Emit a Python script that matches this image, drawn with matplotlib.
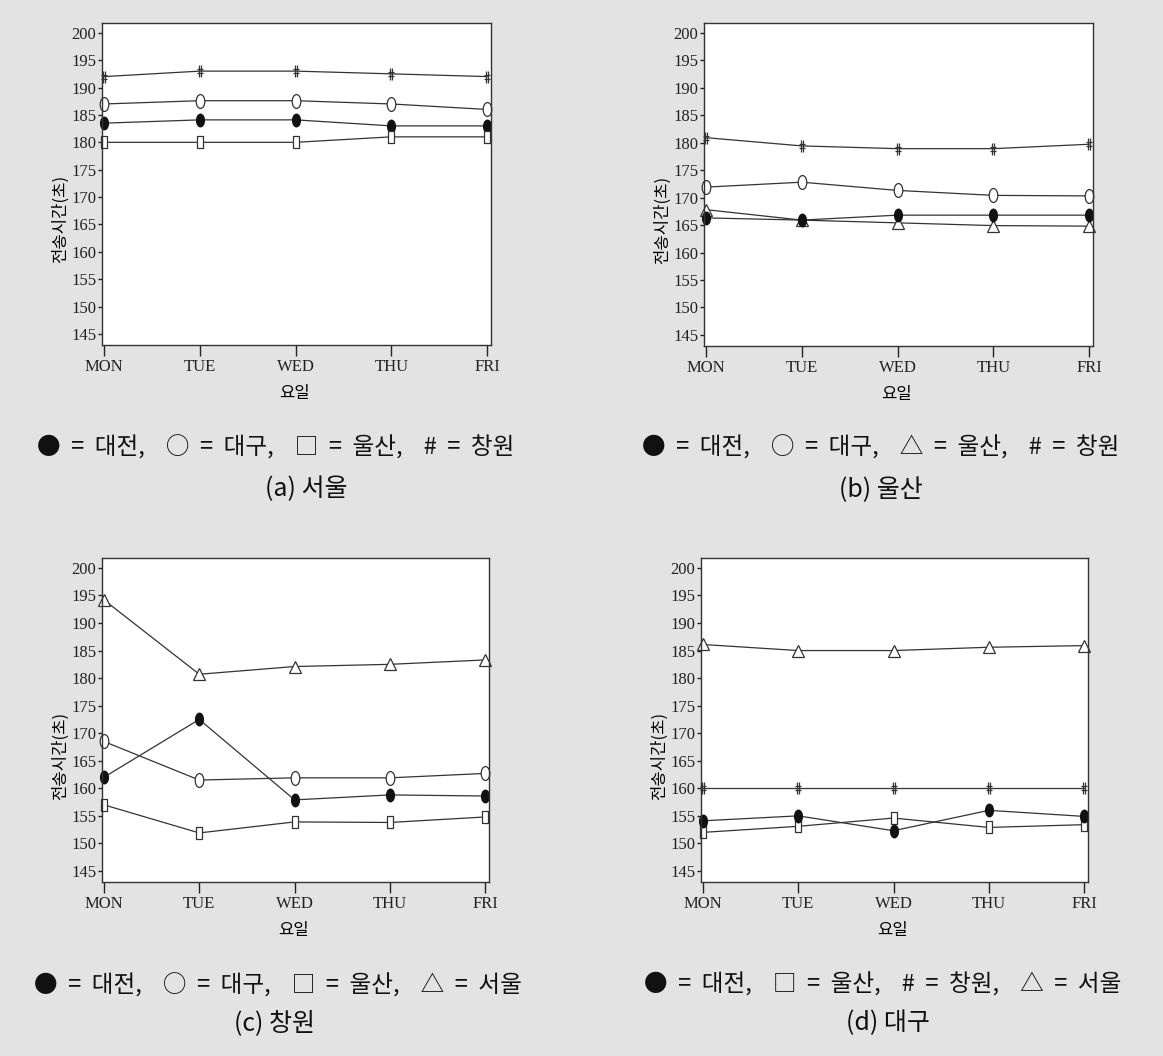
import numpy as np
from matplotlib import pyplot as plt
from matplotlib.path import Path

days = ['MON', 'TUE', 'WED', 'THU', 'FRI']
yticks = [145, 150, 155, 160, 165, 170, 175, 180, 185, 190, 195, 200]

# (a) 서울
seoul_daejeon = [183.5, 184.1, 184.1, 183.0, 183.0]
seoul_daegu = [187.0, 187.6, 187.6, 187.0, 186.0]
seoul_ulsan = [180.0, 180.0, 180.0, 181.0, 181.0]
seoul_changwon = [192.0, 193.0, 193.0, 192.5, 192.0]

# (b) 울산
ulsan_daejeon = [166.3, 165.9, 166.8, 166.8, 166.8]
ulsan_daegu = [171.9, 172.8, 171.3, 170.4, 170.3]
ulsan_ulsan = [167.8, 165.9, 165.4, 164.9, 164.8]
ulsan_changwon = [180.9, 179.4, 178.9, 178.9, 179.7]

# (c) 창원
changwon_daejeon = [162.0, 172.5, 157.9, 158.8, 158.6]
changwon_daegu = [168.5, 161.5, 161.9, 161.9, 162.7]
changwon_ulsan = [157.0, 151.9, 153.9, 153.8, 154.8]
changwon_seoul = [194.2, 180.7, 182.1, 182.5, 183.3]

# (d) 대구
daegu_daejeon = [154.1, 155.0, 152.3, 156.0, 154.9]
daegu_ulsan = [152.0, 153.1, 154.6, 152.9, 153.4]
daegu_changwon = [160.0, 160.0, 160.0, 160.0, 160.0]
daegu_seoul = [186.1, 185.0, 185.0, 185.6, 185.9]

legends = ['●  =  대전,    ○  =  대구,    □  =  울산,    #  =  창원',
           '●  =  대전,    ○  =  대구,    △  =  울산,    #  =  창원',
           '●  =  대전,    ○  =  대구,    □  =  울산,    △  =  서울',
           '●  =  대전,    □  =  울산,    #  =  창원,    △  =  서울']
captions = ['(a) 서울', '(b) 울산', '(c) 창원', '(d) 대구']

kfont = ['Noto Sans CJK KR', 'DejaVu Sans']

# tall, narrow markers like the scanned plot
circ = Path.unit_circle()
oval = Path(circ.vertices * [0.62, 1.0], circ.codes)
rect = Path([(-0.55, -1), (0.55, -1), (0.55, 1), (-0.55, 1), (-0.55, -1)],
            [Path.MOVETO, Path.LINETO, Path.LINETO, Path.LINETO, Path.CLOSEPOLY])
hash_mark = Path([(-0.25, -1), (-0.25, 1), (0.25, -1), (0.25, 1),
                  (-0.6, 0.3), (0.6, 0.3), (-0.6, -0.3), (0.6, -0.3)],
                 [Path.MOVETO, Path.LINETO] * 4)

styles = {
    'dot': dict(marker=oval, ms=9, mfc='#111111', mec='#111111'),
    'ring': dict(marker=oval, ms=10, mfc='white', mec='#333333', mew=0.9),
    'box': dict(marker=rect, ms=9, mfc='white', mec='#333333', mew=0.9),
    'hash': dict(marker=hash_mark, ms=8, mfc='none', mec='#333333', mew=0.9),
    'tri': dict(marker='^', ms=8, mfc='white', mec='#333333', mew=0.9),
}

panels = [
    [(seoul_changwon, 'hash'), (seoul_daegu, 'ring'), (seoul_daejeon, 'dot'), (seoul_ulsan, 'box')],
    [(ulsan_changwon, 'hash'), (ulsan_daegu, 'ring'), (ulsan_ulsan, 'tri'), (ulsan_daejeon, 'dot')],
    [(changwon_seoul, 'tri'), (changwon_daegu, 'ring'), (changwon_ulsan, 'box'), (changwon_daejeon, 'dot')],
    [(daegu_seoul, 'tri'), (daegu_changwon, 'hash'), (daegu_ulsan, 'box'), (daegu_daejeon, 'dot')],
]

positions = [
    [0.0877, 0.6733, 0.3345, 0.305],
    [0.6053, 0.6724, 0.3345, 0.306],
    [0.0877, 0.1648, 0.3328, 0.3068],
    [0.6027, 0.1648, 0.3328, 0.3068],
]

# legend line / caption centres in figure px
text_pos = [(276, 447, 306, 489), (881, 447, 881, 490),
            (278, 985, 274, 1023), (883, 985, 888, 1023)]

fig = plt.figure(figsize=(11.63, 10.56), dpi=100, facecolor='#e3e3e3')
x = np.arange(len(days))

for i in range(4):
    ax = fig.add_axes(positions[i])
    ax.set_facecolor('white')
    for vals, key in panels[i]:
        ax.plot(x, vals, color='#333333', lw=0.9, clip_on=False, **styles[key])
    ax.set_xlim(-0.02, 4.04)
    ax.set_ylim(143, 201.8)
    ax.set_xticks(x)
    ax.set_xticklabels(days, family='Liberation Serif', fontsize=12)
    ax.set_yticks(yticks)
    ax.set_yticklabels([str(v) for v in yticks], family='Liberation Serif', fontsize=12)
    ax.tick_params(axis='x', length=8, width=1, pad=2, colors='#222222')
    ax.tick_params(axis='y', length=3, width=1, pad=1, colors='#222222')
    for s in ax.spines.values():
        s.set_color('#333333')
        s.set_linewidth(1.0)
    ax.set_ylabel('전송시간(초)', family=kfont, fontsize=12)
    ax.yaxis.set_label_coords(-0.085, 0.39)
    ax.set_xlabel('요일', family=kfont, fontsize=12)
    ax.xaxis.set_label_coords(0.495, -0.125)

    lx, ly, cx, cy = text_pos[i]
    fig.text(lx / 1163, 1 - ly / 1056, legends[i], family=kfont, fontsize=17,
             ha='center', va='center', color='#111111')
    fig.text(cx / 1163, 1 - cy / 1056, captions[i], family=kfont, fontsize=18,
             ha='center', va='center', color='#111111')

fig.savefig('out.png', dpi=100, facecolor=fig.get_facecolor())
